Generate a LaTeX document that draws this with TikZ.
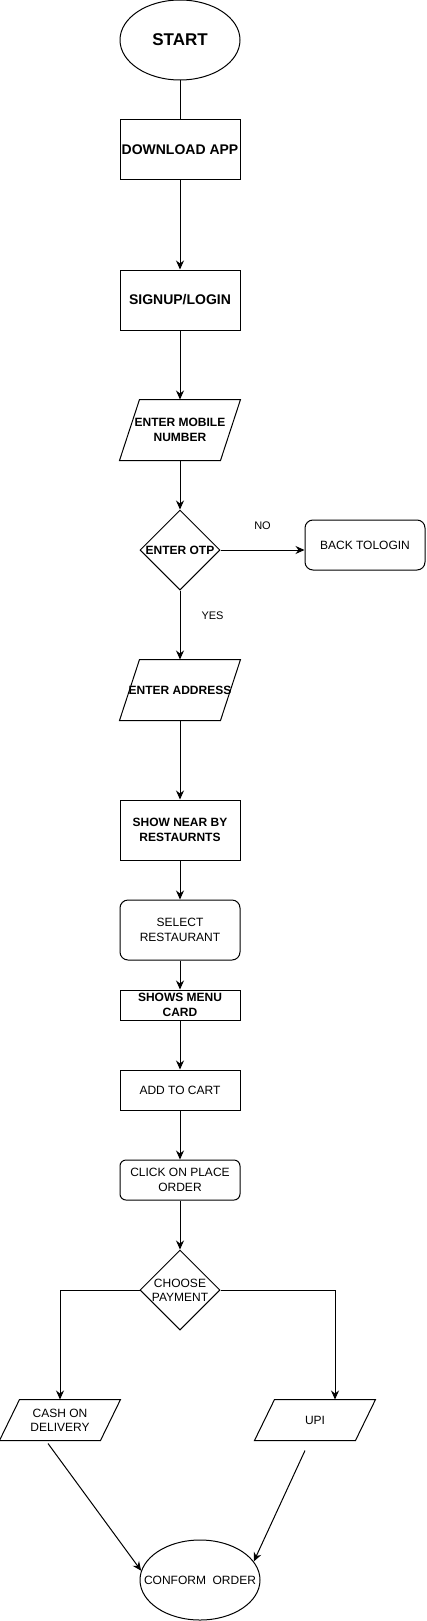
\documentclass[tikz,border=0pt]{standalone}
\usepackage{fontspec}
\setmainfont{Liberation Sans}
\usetikzlibrary{arrows.meta,shapes.geometric}

\tikzset{
  base/.style={draw, inner sep=0pt, minimum width=120pt, align=center,
    font=\fontsize{12}{14.4}\selectfont},
  bold/.style={font=\fontsize{12}{14.4}\selectfont\bfseries},
  procbox/.style={base, rectangle, minimum height=60pt},
  roundbox/.style={procbox, rounded corners=8pt},
  iobox/.style={procbox, draw=none},
  decbox/.style={base, diamond, minimum width=80pt, minimum height=80pt, aspect=1},
  termbox/.style={base, ellipse, minimum height=80pt},
  lbl/.style={font=\fontsize{11}{13}\selectfont, inner sep=0pt},
}

\begin{document}
\begin{tikzpicture}[x=1pt, y=-1pt, >={Stealth[length=9pt,width=8pt]}, line width=1pt]

\useasboundingbox (0,0) rectangle (426,1621);

% --- PARAMETERS ---
\def\sl{20pt} % slant of the input boxes

% --- MAIN COLUMN ---
\node[termbox, font=\fontsize{17}{20}\selectfont\bfseries] (start) at (180,40) {\makebox[0pt]{START}};
\node[procbox, font=\fontsize{14}{16.8}\selectfont\bfseries] (down) at (180,150) {DOWNLOAD APP};
\node[procbox, font=\fontsize{14}{16.8}\selectfont\bfseries] (sign) at (180,300) {SIGNUP/LOGIN};
\node[iobox, bold] (mobile) at (180,430) {ENTER MOBILE\\NUMBER};
\node[decbox, bold] (otp) at (180,550) {ENTER OTP};
\node[roundbox, minimum height=50pt] (back) at (365,545) {BACK TOLOGIN};
\node[iobox, bold] (addr) at (180,690) {ENTER ADDRESS};
\node[procbox, bold] (near) at (180,830) {SHOW NEAR BY\\RESTAURNTS};
\node[roundbox] (select) at (180,930) {SELECT\\RESTAURANT};
\node[procbox, bold, minimum height=30pt] (menu) at (180,1005) {SHOWS MENU\\CARD};
\node[procbox, minimum height=40pt] (cart) at (180,1090) {ADD TO CART};
\node[roundbox, minimum height=40pt, rounded corners=6pt] (place) at (180,1180) {CLICK ON PLACE\\ORDER};
\node[decbox] (pay) at (180,1290) {CHOOSE\\PAYMENT};

% --- PAYMENT BRANCHES ---
\node[iobox, minimum height=40pt] (cash) at (60,1420) {CASH ON\\DELIVERY};
\node[iobox, minimum height=40pt] (upi) at (315,1420) {UPI};
\node[termbox] (conform) at (200,1580) {\makebox[0pt]{CONFORM\ \ ORDER}};
\coordinate (upitop) at ([xshift=20pt]upi.north);

% input boxes as parallelograms
\foreach \n in {mobile,addr,cash,upi} {
  \draw ([xshift=\sl]\n.north west) -- (\n.north east)
    -- ([xshift=-\sl]\n.south east) -- (\n.south west) -- cycle;
}

% --- CONNECTORS ---
\draw (start) -- (down);
\draw[->] (down) -- (sign);
\draw[->] (sign) -- (mobile);
\draw[->] (mobile) -- (otp);
\draw[->] (otp.east) -- (otp.east -| back.west)
  node[lbl, midway, above=20pt] {NO};
\draw[->] (otp) -- (addr)
  node[lbl, pos=0.37, right=21pt] {YES};
\draw[->] (addr) -- (near);
\draw[->] (near) -- (select);
\draw[->] (select) -- (menu);
\draw[->] (menu) -- (cart);
\draw[->] (cart) -- (place);
\draw[->] (place) -- (pay);
\draw[->] (pay.west) -| (cash.north);
\draw[->] (pay.east) -| (upitop);
\draw[->] ([shift={(-12pt,-3pt)}]cash.south) -- (conform.171);
\draw[->] ([shift={(-10pt,-10pt)}]upi.south) -- (conform.19);

\end{tikzpicture}
\end{document}
